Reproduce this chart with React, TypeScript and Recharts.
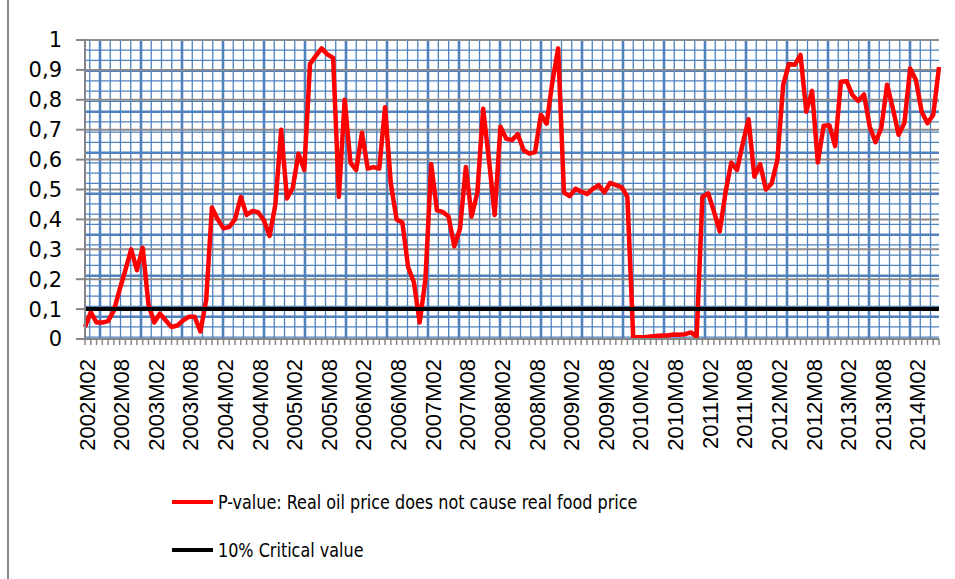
import { CartesianGrid, Line, LineChart, ReferenceLine, XAxis, YAxis } from "recharts";

// monthly sample 2002M02 .. 2014M06
const FIRST_YEAR = 2002;
const FIRST_MONTH = 2;
const LAST_YEAR = 2014;
const LAST_MONTH = 6;

const MONTHS: string[] = [];
for (let y = FIRST_YEAR; y <= LAST_YEAR; y++) {
  for (let m = 1; m <= 12; m++) {
    if (y === FIRST_YEAR && m < FIRST_MONTH) continue;
    if (y === LAST_YEAR && m > LAST_MONTH) continue;
    MONTHS.push(`${y}M${String(m).padStart(2, "0")}`);
  }
}

// P-value: Real oil price does not cause real food price
const P_VALUES = [
  0.04, 0.09, 0.055, 0.055, 0.06, 0.095, 0.165, 0.23, 0.3, 0.23,
  0.305, 0.115, 0.055, 0.085, 0.062, 0.04, 0.045, 0.062, 0.074, 0.074,
  0.025, 0.13, 0.44, 0.4, 0.37, 0.375, 0.4, 0.475, 0.415, 0.428,
  0.424, 0.397, 0.345, 0.45, 0.7, 0.47, 0.505, 0.62, 0.565, 0.92,
  0.947, 0.972, 0.952, 0.94, 0.475, 0.8, 0.59, 0.565, 0.69, 0.57,
  0.575, 0.57, 0.775, 0.52, 0.4, 0.39, 0.24, 0.19, 0.055, 0.2,
  0.585, 0.43, 0.425, 0.41, 0.31, 0.37, 0.575, 0.41, 0.49, 0.77,
  0.6, 0.415, 0.71, 0.67, 0.665, 0.685, 0.632, 0.62, 0.625, 0.75,
  0.72, 0.86, 0.972, 0.49, 0.478, 0.502, 0.493, 0.485, 0.502, 0.515,
  0.49, 0.522, 0.515, 0.508, 0.475, 0.007, 0.006, 0.006, 0.008, 0.01,
  0.012, 0.012, 0.015, 0.014, 0.016, 0.022, 0.008, 0.476, 0.487, 0.426,
  0.36, 0.49, 0.59, 0.565, 0.655, 0.735, 0.543, 0.585, 0.5, 0.52,
  0.6, 0.85, 0.92, 0.917, 0.95, 0.76, 0.83, 0.59, 0.713, 0.715,
  0.645, 0.86, 0.862, 0.816, 0.796, 0.818, 0.71, 0.658, 0.705, 0.85,
  0.772, 0.683, 0.722, 0.905, 0.866, 0.76, 0.722, 0.749, 0.91,
];

const CRITICAL_VALUE = 0.1;
const Y_TICKS = [0, 0.1, 0.2, 0.3, 0.4, 0.5, 0.6, 0.7, 0.8, 0.9, 1];
const LABEL_EVERY = 6;

const SERIES = [
  { name: "P-value: Real oil price does not cause real food price", color: "#ff0000" },
  { name: "10% Critical value", color: "#000000" },
];

const data = MONTHS.map((month, i) => ({ month, p: P_VALUES[i] }));

const AXIS_GREY = "#868686";
const PAPER_BLUE = "#4f81bd";
const SQUARE = 41; // graph-paper background square, 4 small cells each

// graph paper backdrop: the pattern has a seam near the middle, so lay it out from both ends
function paperColumns(left: number, right: number, major: boolean) {
  const heavy: number[] = [];
  for (let x = left + 15; x <= left + 15 + SQUARE * 8 + 0.1; x += SQUARE) heavy.push(x);
  const fromRight: number[] = [];
  for (let k = 0; k <= 11; k++) fromRight.push(right - 29 - SQUARE * k);
  heavy.push(...fromRight.reverse());
  if (major) return heavy;
  const minor: number[] = [];
  const q = SQUARE / 4;
  for (let x = heavy[0] - q; x > left + 1; x -= q) minor.push(x);
  for (let j = 0; j < heavy.length - 1; j++) {
    const a = heavy[j];
    const b = heavy[j + 1];
    const n = Math.round((b - a) / q);
    for (let s = 1; s < n; s++) minor.push(a + ((b - a) * s) / n);
  }
  const last = heavy[heavy.length - 1];
  for (let x = last + q; x < right - 1; x += q) minor.push(x);
  return minor;
}

function paperRows(top: number, bottom: number, major: boolean) {
  const start = top + 30.7;
  const out: number[] = [];
  const step = major ? SQUARE : SQUARE / 4;
  for (let y = start; y > top + 1; y -= step) out.push(y);
  for (let y = start + step; y < bottom - 1; y += step) out.push(y);
  return out;
}

function MonthTick(props: any) {
  const { x, y, index, payload } = props;
  if (index % LABEL_EVERY !== 0) return null;
  return (
    <text
      transform={`translate(${x + 2},${y + 12}) rotate(-90)`}
      textAnchor="end"
      dominantBaseline="central"
      fontFamily="'Liberation Sans', Arial, sans-serif"
      fontSize={22}
      fill="#000"
    >
      {payload.value}
    </text>
  );
}

export default function App() {
  return (
    <div style={{ position: "absolute", left: 0, top: 0, width: 955, height: 579, background: "#fff", overflow: "hidden" }}>
      <div style={{ position: "absolute", left: 7, top: 0, width: 2, height: 579, background: AXIS_GREY }} />
      <LineChart width={955} height={579} data={data} margin={{ top: 40, right: 16, left: 10, bottom: 210 }}>
        <CartesianGrid
          stroke={PAPER_BLUE}
          strokeWidth={1.3}
          verticalCoordinatesGenerator={({ offset }: any) => paperColumns(offset.left, offset.left + offset.width, false)}
          horizontalCoordinatesGenerator={({ offset }: any) => paperRows(offset.top, offset.top + offset.height, false)}
        />
        <CartesianGrid
          stroke={PAPER_BLUE}
          strokeWidth={2.6}
          verticalCoordinatesGenerator={({ offset }: any) => paperColumns(offset.left, offset.left + offset.width, true)}
          horizontalCoordinatesGenerator={({ offset }: any) => paperRows(offset.top, offset.top + offset.height, true)}
        />
        <CartesianGrid vertical={false} stroke="#8c8c8c" strokeWidth={2} />
        <XAxis
          dataKey="month"
          interval={0}
          height={30}
          tick={<MonthTick />}
          tickSize={6}
          tickLine={{ stroke: AXIS_GREY, strokeWidth: 1.5 }}
          axisLine={{ stroke: AXIS_GREY, strokeWidth: 2 }}
        />
        <YAxis
          domain={[0, 1]}
          ticks={Y_TICKS}
          interval={0}
          width={75}
          tickSize={9}
          tickMargin={14}
          tickFormatter={(v: number) => String(v).replace(".", ",")}
          tick={{ fontSize: 21, fill: "#000", fontFamily: "'DejaVu Sans', Verdana, sans-serif" } as never}
          tickLine={{ stroke: AXIS_GREY, strokeWidth: 2 }}
          axisLine={{ stroke: AXIS_GREY, strokeWidth: 2 }}
        />
        <Line
          type="linear"
          dataKey="p"
          name={SERIES[0].name}
          stroke={SERIES[0].color}
          strokeWidth={4.5}
          strokeLinejoin="round"
          dot={false}
          isAnimationActive={false}
        />
        <ReferenceLine y={CRITICAL_VALUE} stroke={SERIES[1].color} strokeWidth={4} />
      </LineChart>
      {SERIES.map((s, i) => (
        <div
          key={s.name}
          style={{ position: "absolute", left: 172, top: 488 + i * 48, height: 28, display: "flex", alignItems: "center" }}
        >
          <span style={{ width: 41, height: 4, background: s.color, display: "inline-block" }} />
          <span
            style={{
              marginLeft: 5,
              fontSize: 20,
              fontFamily: "'Liberation Sans Narrow', 'DejaVu Sans Condensed', sans-serif",
              color: "#000",
              whiteSpace: "nowrap",
              display: "inline-block",
              transform: "scaleX(0.89)",
              transformOrigin: "left center",
            }}
          >
            {s.name}
          </span>
        </div>
      ))}
    </div>
  );
}
